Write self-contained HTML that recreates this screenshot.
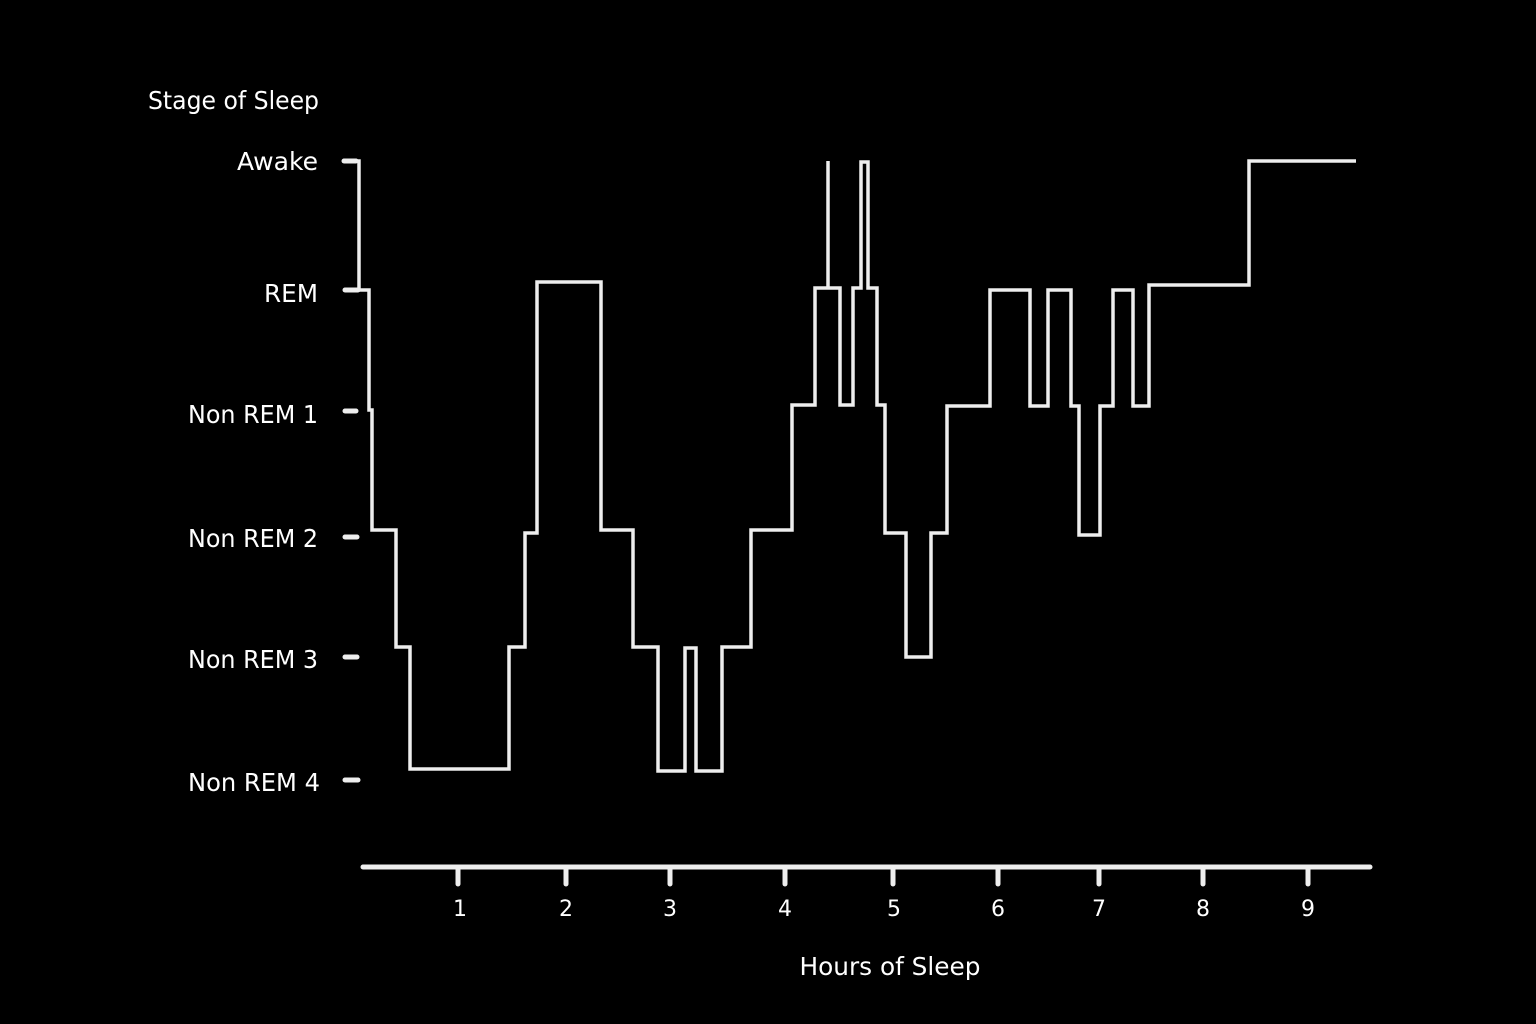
<!DOCTYPE html>
<html><head><meta charset="utf-8"><style>html,body{margin:0;padding:0;background:#000}svg{display:block}</style></head>
<body>
<svg width="1536" height="1024" viewBox="0 0 1536 1024" xmlns="http://www.w3.org/2000/svg">
<rect width="1536" height="1024" fill="#000"/>
<g font-family="DejaVu Sans, Liberation Sans, sans-serif" fill="#fff" font-size="25">
<text x="148" y="109" textLength="171" lengthAdjust="spacingAndGlyphs">Stage of Sleep</text>
<text x="318" y="170" text-anchor="end" textLength="81" lengthAdjust="spacingAndGlyphs">Awake</text>
<text x="318" y="302" text-anchor="end" textLength="54" lengthAdjust="spacingAndGlyphs">REM</text>
<text x="318" y="423" text-anchor="end" textLength="130" lengthAdjust="spacingAndGlyphs">Non REM 1</text>
<text x="318" y="547" text-anchor="end" textLength="130" lengthAdjust="spacingAndGlyphs">Non REM 2</text>
<text x="318" y="668" text-anchor="end" textLength="130" lengthAdjust="spacingAndGlyphs">Non REM 3</text>
<text x="320" y="791" text-anchor="end" textLength="132" lengthAdjust="spacingAndGlyphs">Non REM 4</text>
<text x="890" y="975" text-anchor="middle" textLength="181" lengthAdjust="spacingAndGlyphs">Hours of Sleep</text>
<g font-size="22" text-anchor="middle">
<text x="460" y="916">1</text><text x="566" y="916">2</text><text x="670" y="916">3</text>
<text x="785" y="916">4</text><text x="894" y="916">5</text><text x="998" y="916">6</text>
<text x="1099" y="916">7</text><text x="1203" y="916">8</text><text x="1308" y="916">9</text>
</g>
</g>
<g stroke="#eee" stroke-linecap="round" stroke-width="5">
<line x1="363" y1="867" x2="1370" y2="867"/>
<line x1="458" y1="869" x2="458" y2="884"/><line x1="566" y1="869" x2="566" y2="884"/>
<line x1="670" y1="869" x2="670" y2="884"/><line x1="785" y1="869" x2="785" y2="884"/>
<line x1="893" y1="869" x2="893" y2="884"/><line x1="998" y1="869" x2="998" y2="884"/>
<line x1="1099" y1="869" x2="1099" y2="884"/><line x1="1203" y1="869" x2="1203" y2="884"/>
<line x1="1308" y1="869" x2="1308" y2="884"/>
<line x1="344" y1="161" x2="356" y2="161"/><line x1="345" y1="290" x2="358" y2="290"/>
<line x1="345" y1="411" x2="356" y2="411"/><line x1="345" y1="537" x2="357" y2="537"/>
<line x1="345" y1="657" x2="357" y2="657"/><line x1="345" y1="780" x2="358" y2="780"/>
</g>
<polyline fill="none" stroke="#eee" stroke-width="3.5" stroke-linejoin="miter"
points="344,161 359,161 359,290 369,290 369,410 372,410 372,530 396,530 396,647 410,647 410,769 509,769 509,647 525,647 525,533 537,533 537,282 601,282 601,530 633,530 633,647 658,647 658,771 685,771 685,648 696,648 696,771 722,771 722,647 751,647 751,530 792,530 792,405 815,405 815,288 828,288 828,161 828,288 840,288 840,405 853,405 853,288 861,288 861,162 868,162 868,288 877,288 877,405 885,405 885,533 906,533 906,657 931,657 931,533 947,533 947,406 990,406 990,290 1030,290 1030,406 1048,406 1048,290 1071,290 1071,406 1079,406 1079,535 1100,535 1100,406 1113,406 1113,290 1133,290 1133,406 1149,406 1149,285 1249,285 1249,161 1356,161"/>
</svg>
</body></html>
